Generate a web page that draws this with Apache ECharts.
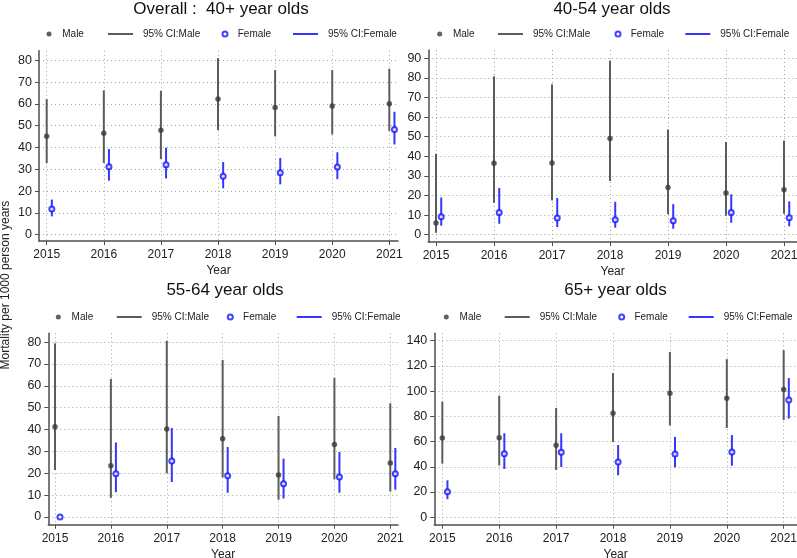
<!DOCTYPE html>
<html lang="en">
  <head>
    <meta charset="utf-8" />
    <title>Mortality per 1000 person years</title>
    <script src="https://cdn.jsdelivr.net/npm/echarts@6/dist/echarts.min.js"></script>
  </head>
  <body style="margin:0">
    <div id="main" style="width: 797px; height: 558px;"></div>
    <script type="text/javascript">
      const years = [2015, 2016, 2017, 2018, 2019, 2020, 2021];
      const panelTitles = ['Overall :  40+ year olds', '40-54 year olds', '55-64 year olds', '65+ year olds'];

      // Overall 40+
      const overallMale = [45.1, 46.5, 47.9, 62.2, 58.4, 59.0, 60.1];
      const overallMaleLo = [32.9, 32.9, 34.7, 48.0, 45.1, 46.0, 47.6];
      const overallMaleHi = [62.2, 66.2, 66.0, 81.0, 75.5, 75.5, 76.1];
      const overallFemale = [11.8, 31.2, 32.1, 26.8, 28.4, 31.0, 48.3];
      const overallFemaleLo = [8.4, 24.8, 25.8, 21.3, 23.1, 25.5, 41.4];
      const overallFemaleHi = [16.1, 39.3, 39.9, 33.3, 35.2, 37.8, 56.4];

      // 40-54
      const age4054Male = [6.0, 36.4, 36.6, 49.1, 24.1, 21.3, 23.0];
      const age4054MaleLo = [1.0, 16.3, 17.5, 27.4, 10.5, 9.7, 10.7];
      const age4054MaleHi = [41.3, 80.8, 76.7, 88.8, 53.7, 47.3, 48.0];
      const age4054Female = [9.2, 11.4, 8.5, 7.7, 7.1, 11.4, 8.7];
      const age4054FemaleLo = [4.6, 5.6, 3.9, 3.6, 3.1, 6.1, 4.3];
      const age4054FemaleHi = [19.0, 23.8, 18.7, 16.8, 15.6, 20.6, 17.0];

      // 55-64
      const age5564Male = [41.3, 23.5, 40.2, 35.8, 19.2, 33.2, 24.7];
      const age5564MaleLo = [21.5, 8.8, 20.0, 18.1, 7.9, 17.2, 11.6];
      const age5564MaleHi = [79.4, 63.1, 80.6, 71.8, 46.2, 63.6, 52.0];
      const age5564Female = [0, 19.8, 25.6, 18.9, 15.2, 18.3, 19.8];
      const age5564FemaleLo = [0, 11.4, 16.0, 11.1, 8.5, 11.1, 12.5];
      const age5564FemaleHi = [0, 34.1, 40.7, 32.0, 26.7, 29.7, 31.6];

      // 65+
      const age65Male = [62.9, 63.1, 57.1, 82.4, 98.3, 94.3, 101.4];
      const age65MaleLo = [42.5, 41.2, 37.5, 59.7, 72.9, 70.8, 77.1];
      const age65MaleHi = [91.7, 96.4, 86.7, 114.4, 131.0, 125.4, 132.6];
      const age65Female = [20.3, 50.4, 51.5, 43.8, 50.2, 51.8, 93.0];
      const age65FemaleLo = [14.3, 38.3, 39.9, 33.3, 39.6, 40.9, 78.2];
      const age65FemaleHi = [29.3, 66.6, 66.6, 57.3, 63.7, 65.2, 110.4];

      const yTicks80 = [0, 10, 20, 30, 40, 50, 60, 70, 80];
      const yTicks90 = [0, 10, 20, 30, 40, 50, 60, 70, 80, 90];
      const yTicks140 = [0, 20, 40, 60, 80, 100, 120, 140];

      const FONT = "'Liberation Sans', Arial, Helvetica, sans-serif";
      const femaleShift = 0.09;   // female markers sit a little right of the year

      const panels = [
        { male: overallMale, mLo: overallMaleLo, mHi: overallMaleHi,
          female: overallFemale, fLo: overallFemaleLo, fHi: overallFemaleHi, ticks: yTicks80,
          box: [39, 50.7, 398, 241], xr: [2014.865, 2021.152], yr: [-2.9, 84.4],
          title: [221, 9], legend: [[49, 108, 224, 293], 35] },
        { male: age4054Male, mLo: age4054MaleLo, mHi: age4054MaleHi,
          female: age4054Female, fLo: age4054FemaleLo, fHi: age4054FemaleHi, ticks: yTicks90,
          box: [428.3, 50, 797, 242], xr: [2014.867, 2021.224], yr: [-3.7, 94.2],
          title: [612, 9], legend: [[439.7, 498, 617, 685.3], 35] },
        { male: age5564Male, mLo: age5564MaleLo, mHi: age5564MaleHi,
          female: age5564Female, fLo: age5564FemaleLo, fHi: age5564FemaleHi, ticks: yTicks80,
          box: [48.3, 333.3, 398, 524.7], xr: [2014.88, 2021.138], yr: [-3.5, 84.0],
          title: [225, 290], legend: [[58.3, 116.7, 229.3, 296.7], 318] },
        { male: age65Male, mLo: age65MaleLo, mHi: age65MaleHi,
          female: age65Female, fLo: age65FemaleLo, fHi: age65FemaleHi, ticks: yTicks140,
          box: [434.3, 333.3, 797, 524.7], xr: [2014.859, 2021.234], yr: [-5.9, 145.9],
          title: [615.5, 290], legend: [[446.3, 504.7, 620.7, 688.7], 318] }
      ];

      const MALE_DOT = '#3a3a3a';
      const MALE_CI = '#5c5c5c';
      const FEMALE_DOT = '#1414ff';
      const FEMALE_CI = '#3535ff';
      const AXIS = '#4d4d4d';
      const dotted = { type: [1, 3], color: '#a0a0a0', width: 1 };

      const ciSeries = (name, idx, rows, color) => ({
        type: 'custom',
        name: name,
        xAxisIndex: idx,
        yAxisIndex: idx,
        itemStyle: { color: color },
        encode: { x: 0, y: [1, 2] },
        data: rows,
        z: 2,
        renderItem: (params, api) => {
          const a = api.coord([api.value(0), api.value(1)]);
          const b = api.coord([api.value(0), api.value(2)]);
          return {
            type: 'line',
            shape: { x1: a[0], y1: a[1], x2: b[0], y2: b[1] },
            style: { stroke: color, lineWidth: 2 }
          };
        }
      });

      let grids = [], xAxes = [], yAxes = [], series = [], legends = [], graphics = [];

      panels.forEach((p, i) => {
        const [l, t, r, b] = p.box;
        grids.push({ left: l, top: t, width: r - l, height: b - t, outerBoundsMode: 'none', containLabel: false });

        xAxes.push({
          gridIndex: i, type: 'value', min: p.xr[0], max: p.xr[1],
          name: 'Year', nameLocation: 'middle', nameGap: 24,
          nameTextStyle: { fontSize: 12, color: '#222', fontFamily: FONT },
          axisLine: { show: true, onZero: false, lineStyle: { color: AXIS, width: 1.5 } },
          axisTick: { show: true, length: 4, customValues: years, lineStyle: { color: AXIS, width: 1 } },
          axisLabel: { customValues: years, fontSize: 12, color: '#222', margin: 8, fontFamily: FONT,
                       formatter: v => String(v) },
          splitLine: { show: true, lineStyle: dotted }
        });

        yAxes.push({
          gridIndex: i, type: 'value', min: p.yr[0], max: p.yr[1],
          axisLine: { show: true, onZero: false, lineStyle: { color: AXIS, width: 1.5 } },
          axisTick: { show: true, length: 4, customValues: p.ticks, lineStyle: { color: AXIS, width: 1 } },
          axisLabel: { customValues: p.ticks, fontSize: 12.5, color: '#222', margin: 7, fontFamily: FONT },
          splitLine: { show: true, lineStyle: dotted }
        });

        series.push(ciSeries('95% CI:Male', i, years.map((y, k) => [y, p.mLo[k], p.mHi[k]]), MALE_CI));
        series.push(ciSeries('95% CI:Female', i, years.map((y, k) => [y + femaleShift, p.fLo[k], p.fHi[k]]), FEMALE_CI));
        series.push({
          type: 'scatter', name: 'Male', xAxisIndex: i, yAxisIndex: i,
          symbol: 'circle', symbolSize: 5.5, z: 3,
          itemStyle: { color: MALE_DOT },
          data: years.map((y, k) => [y, p.male[k]])
        });
        series.push({
          type: 'scatter', name: 'Female', xAxisIndex: i, yAxisIndex: i,
          symbol: 'emptyCircle', symbolSize: 5, z: 3,
          itemStyle: { color: FEMALE_DOT, borderWidth: 1.3 },
          data: years.map((y, k) => [y + femaleShift, p.female[k]])
        });

        // legend, one component per entry so spacing can follow the original
        const [xs, cy] = p.legend;
        const common = { top: cy - 6, padding: 0, orient: 'horizontal',
                         textStyle: { fontSize: 10, color: '#222', fontFamily: FONT } };
        legends.push(Object.assign({ left: xs[0] - 2.5, itemWidth: 16.5, itemHeight: 5,
                                     data: [{ name: 'Male', icon: 'circle' }] }, common));
        legends.push(Object.assign({ left: xs[1], itemWidth: 35, itemHeight: 2,
                                     data: [{ name: '95% CI:Male', icon: 'path://M0,0H25V2H0Z' }] }, common));
        legends.push(Object.assign({ left: xs[2] - 2.5, itemWidth: 15.5, itemHeight: 5,
                                     data: [{ name: 'Female', icon: 'emptyCircle' }] }, common));
        legends.push(Object.assign({ left: xs[3], itemWidth: 35, itemHeight: 2,
                                     data: [{ name: '95% CI:Female', icon: 'path://M0,0H25V2H0Z' }] }, common));

        graphics.push({
          type: 'text', x: p.title[0], y: p.title[1],
          style: { text: panelTitles[i], fontSize: 17, fill: '#111', fontFamily: FONT,
                   textAlign: 'center', textVerticalAlign: 'middle' }
        });
      });

      graphics.push({
        type: 'text', x: 6, y: 285, rotation: Math.PI / 2,
        style: { text: 'Mortality per 1000 person years', fontSize: 12, fill: '#222', fontFamily: FONT,
                 textAlign: 'center', textVerticalAlign: 'middle' }
      });

      const myChart = echarts.init(document.getElementById('main'));
      myChart.setOption({
        animation: false,
        backgroundColor: '#ffffff',
        textStyle: { fontFamily: FONT },
        grid: grids,
        xAxis: xAxes,
        yAxis: yAxes,
        legend: legends,
        graphic: graphics,
        series: series
      });
    </script>
  </body>
</html>
